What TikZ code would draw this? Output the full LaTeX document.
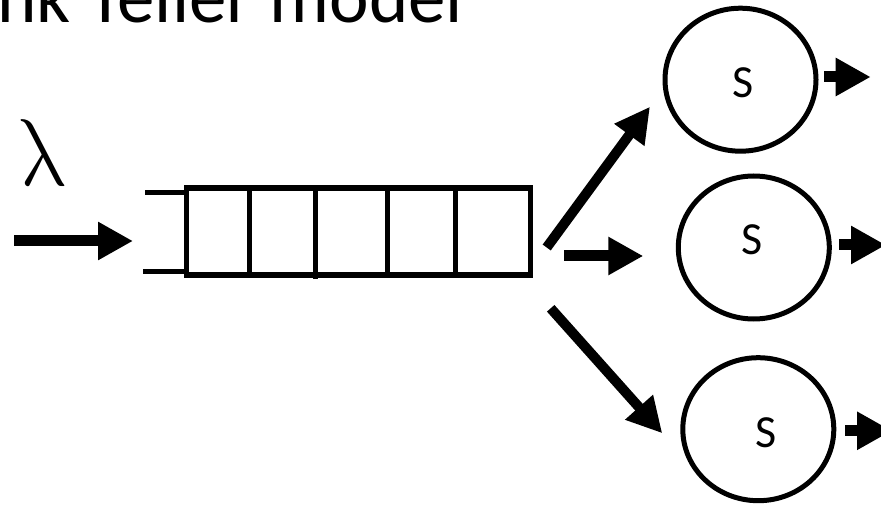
\documentclass[tikz,border=0pt]{standalone}
\usepackage{fontspec}
\usetikzlibrary{arrows.meta,shapes.geometric}
\newfontfamily\titlefont{Carlito}
\tikzset{
  fatarrow/.style={line width=11pt, -{Triangle[length=35pt,width=36pt]}},
  slantarrow/.style={line width=10pt, -{Triangle[length=35pt,width=35pt]}},
  queuebox/.style={rectangle, draw, line width=5.5pt, inner sep=0pt, outer sep=0pt,
    minimum width=344pt, minimum height=87pt},
  server/.style={ellipse, draw, line width=5pt, inner sep=0pt, outer sep=0pt,
    minimum width=151pt, minimum height=143pt},
  serverlabel/.style={inner sep=0pt, font=\titlefont\fontsize{46}{50}\selectfont},
  divider/.style={line width=5pt},
  lip/.style={line width=5pt}
}
\begin{document}
\begin{tikzpicture}[x=1pt, y=-1pt]
  \useasboundingbox (0,0) rectangle (881,505);
  \clip (0,0) rectangle (881,505);
  \fill[white] (0,0) rectangle (881,505);

  % title
  \node[anchor=base west, inner sep=0pt, font=\titlefont\fontsize{75}{80}\selectfont]
    (title) at (-3,22.7) {nk Teller model};

  % arrival rate (upright lambda)
  \node[anchor=base west, inner sep=0pt, xslant=-0.22, transform shape]
    (lambda) at (21,186) {\scalebox{7.9}[9.5]{$\lambda$}};

  % queue
  \node[queuebox] (queue) at (358.7,231.5) {};
  \draw[divider] (249.3,188) -- (249.3,275);
  \draw[divider] (315,188) -- (315,279);
  \draw[divider] (387.3,188) -- (387.3,275);
  \draw[divider] (455,188) -- (455,275);
  \coordinate (liptop) at (145,192.5);
  \coordinate (lipbot) at (143,271);
  \draw[lip] (liptop) -- (queue.west |- liptop);
  \draw[lip] (lipbot) -- (queue.west |- lipbot);

  % servers
  \node[server] (s1) at (740.5,79.7) {};
  \node[server] (s2) at (753.8,247.5) {};
  \node[server] (s3) at (758.3,429.2) {};
  \node[serverlabel] (l1) at (743.3,82.5) {S};
  \node[serverlabel] (l2) at (752.3,240) {S};
  \node[serverlabel] (l3) at (766.3,432.5) {S};

  % arrivals
  \coordinate (in) at (14,241);
  \coordinate (qin) at (133,241);
  \draw[fatarrow] (in) -- (qin);

  % dispatch to servers
  \coordinate (d1a) at (546.7,247.5);
  \coordinate (d1b) at (650,106.7);
  \coordinate (d2a) at (564.3,256);
  \coordinate (d2b) at (643.3,256);
  \coordinate (d3a) at (550.7,308.3);
  \coordinate (d3b) at (662.3,433.3);
  \draw[slantarrow] (d1a) -- (d1b);
  \draw[fatarrow] (d2a) -- (d2b);
  \draw[slantarrow] (d3a) -- (d3b);

  % departures
  \coordinate (o1a) at (824.3,77);
  \coordinate (o1b) at (870.7,77);
  \coordinate (o2a) at (839.3,245);
  \coordinate (o2b) at (886,245);
  \coordinate (o3a) at (845,430.8);
  \coordinate (o3b) at (892,430.8);
  \draw[fatarrow] (o1a) -- (o1b);
  \draw[fatarrow] (o2a) -- (o2b);
  \draw[fatarrow] (o3a) -- (o3b);
\end{tikzpicture}
\end{document}
